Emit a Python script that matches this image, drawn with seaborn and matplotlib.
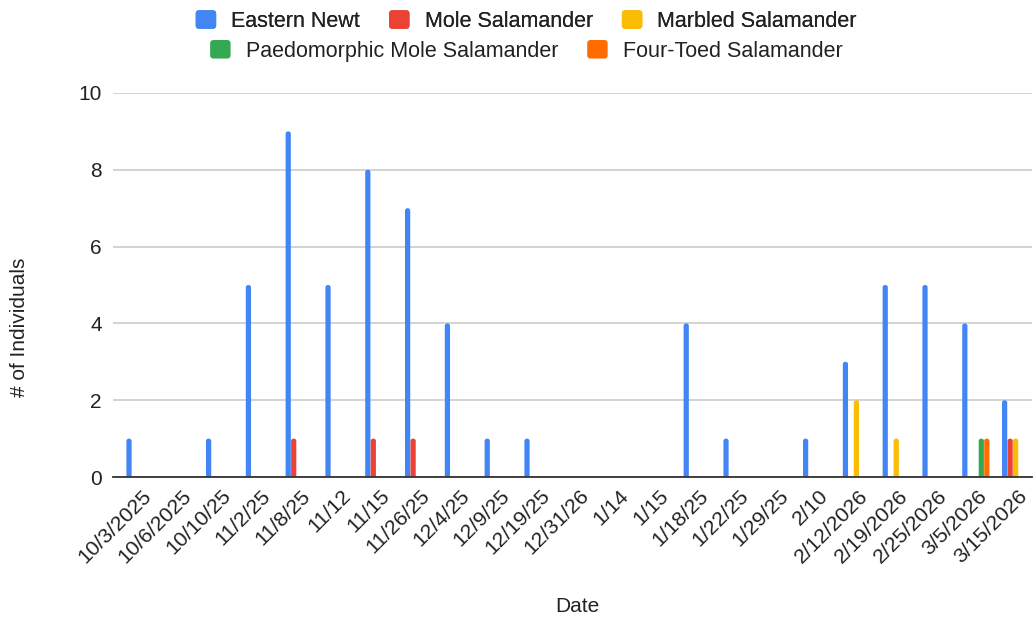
import matplotlib
matplotlib.use("Agg")
import matplotlib.pyplot as plt
import matplotlib.transforms as mtransforms
import seaborn as sns
import pandas as pd
from matplotlib.patches import Patch, FancyBboxPatch
from matplotlib.legend_handler import HandlerPatch

dates = ["10/3/2025", "10/6/2025", "10/10/25", "11/2/25", "11/8/25", "11/12",
         "11/15", "11/26/25", "12/4/25", "12/9/25", "12/19/25", "12/31/26",
         "1/14", "1/15", "1/18/25", "1/22/25", "1/29/25", "2/10",
         "2/12/2026", "2/19/2026", "2/25/2026", "3/5/2026", "3/15/2026"]

eastern_newt = [1, 0, 1, 5, 9, 5, 8, 7, 4, 1, 1, 0, 0, 0, 4, 1, 0, 1, 3, 5, 5, 4, 2]
mole_salamander = [0, 0, 0, 0, 1, 0, 1, 1, 0, 0, 0, 0, 0, 0, 0, 0, 0, 0, 0, 0, 0, 0, 1]
marbled_salamander = [0, 0, 0, 0, 0, 0, 0, 0, 0, 0, 0, 0, 0, 0, 0, 0, 0, 0, 2, 1, 0, 0, 1]
paedomorphic_mole = [0, 0, 0, 0, 0, 0, 0, 0, 0, 0, 0, 0, 0, 0, 0, 0, 0, 0, 0, 0, 0, 1, 0]
four_toed = [0, 0, 0, 0, 0, 0, 0, 0, 0, 0, 0, 0, 0, 0, 0, 0, 0, 0, 0, 0, 0, 1, 0]

species = ["Eastern Newt", "Mole Salamander", "Marbled Salamander",
           "Paedomorphic Mole Salamander", "Four-Toed Salamander"]
colors = ["#4285F4", "#EA4335", "#FBBC04", "#34A853", "#FF6D01"]

series = dict(zip(species, [eastern_newt, mole_salamander, marbled_salamander,
                            paedomorphic_mole, four_toed]))
rows = []
for sp, vals in series.items():
    for d, v in zip(dates, vals):
        rows.append({"Date": d, "Species": sp, "Count": v})
df = pd.DataFrame(rows)

sns.set_theme(style="white")
plt.rcParams["font.family"] = ["Liberation Sans", "DejaVu Sans"]
TEXT = "#222222"

fig = plt.figure(figsize=(10.34, 6.2), dpi=100)
ax = fig.add_axes([0.1093, 0.2306, 0.8887, 0.6194])

sns.barplot(data=df, x="Date", y="Count", hue="Species", order=dates,
            hue_order=species, palette=colors, width=0.69, gap=0.05,
            linewidth=0, saturation=1, legend=False, ax=ax, errorbar=None)

ax.set_ylim(0, 10)
ax.set_xlim(-0.678, 22.41)

# Give each bar a softly rounded top; the bottom corners sit below the
# baseline, where the axes clip them away.
fig.canvas.draw()
px_per_x = ax.transData.transform((1, 0))[0] - ax.transData.transform((0, 0))[0]
px_per_y = ax.transData.transform((0, 1))[1] - ax.transData.transform((0, 0))[1]
radius_px = 2.4
rx = radius_px / px_per_x
ry = radius_px / px_per_y
for bar in list(ax.patches):
    h = bar.get_height()
    if h > 0:
        rounded = FancyBboxPatch((bar.get_x(), bar.get_y() - ry), bar.get_width(), h + ry,
                                 boxstyle=f"round,pad=0,rounding_size={rx}",
                                 mutation_aspect=ry / rx, facecolor=bar.get_facecolor(),
                                 edgecolor="none", linewidth=0, zorder=bar.get_zorder())
        ax.add_patch(rounded)
    bar.set_visible(False)

ax.set_yticks([0, 2, 4, 6, 8, 10])
ax.yaxis.grid(True, color="#CCCCCC", linewidth=1.2)
ax.set_axisbelow(True)
for s in ["top", "right", "left"]:
    ax.spines[s].set_visible(False)
ax.spines["bottom"].set_color("#333333")
ax.spines["bottom"].set_linewidth(1.3)
ax.spines["bottom"].set_zorder(5)

ax.tick_params(axis="y", length=0, labelsize=15, pad=8, labelcolor=TEXT)
ax.tick_params(axis="x", length=0, labelsize=15.3, pad=11.5, labelcolor=TEXT)
shift = mtransforms.ScaledTranslation(8.5 / 100, 0, fig.dpi_scale_trans)
for lbl in ax.get_xticklabels():
    lbl.set_rotation(45)
    lbl.set_ha("right")
    lbl.set_va("center")
    lbl.set_rotation_mode("anchor")
    lbl.set_transform(lbl.get_transform() + shift)

ax.set_xlabel("Date", fontsize=15, color=TEXT)
ax.set_ylabel("# of Individuals", fontsize=15, color=TEXT)
ax.xaxis.set_label_coords(577 / 1034, 1 - 607 / 620, transform=fig.transFigure)
ax.yaxis.set_label_coords(20 / 1034, 1 - 327 / 620, transform=fig.transFigure)
ax.xaxis.label.set_va("center")
ax.yaxis.label.set_va("center")


def rounded_square(legend, orig_handle, xdescent, ydescent, width, height, fontsize):
    return FancyBboxPatch((-xdescent, -ydescent), width, height,
                          boxstyle="round,pad=0,rounding_size=2.5")


handles = [Patch(facecolor=c, edgecolor="none", label=s) for s, c in zip(species, colors)]
hmap = {Patch: HandlerPatch(patch_func=rounded_square)}
common = dict(loc="center", frameon=False, fontsize=15.5, handlelength=0.95,
              handleheight=0.95, handletextpad=0.7, columnspacing=1.35,
              handler_map=hmap, labelcolor=TEXT)
leg1 = fig.legend(handles=handles[:3], bbox_to_anchor=(0.509, 0.966), ncol=3, **common)
leg2 = fig.legend(handles=handles[3:], bbox_to_anchor=(0.509, 0.918), ncol=2, **common)
fig.add_artist(leg1)

fig.savefig("out.png", dpi=100, facecolor="white")
